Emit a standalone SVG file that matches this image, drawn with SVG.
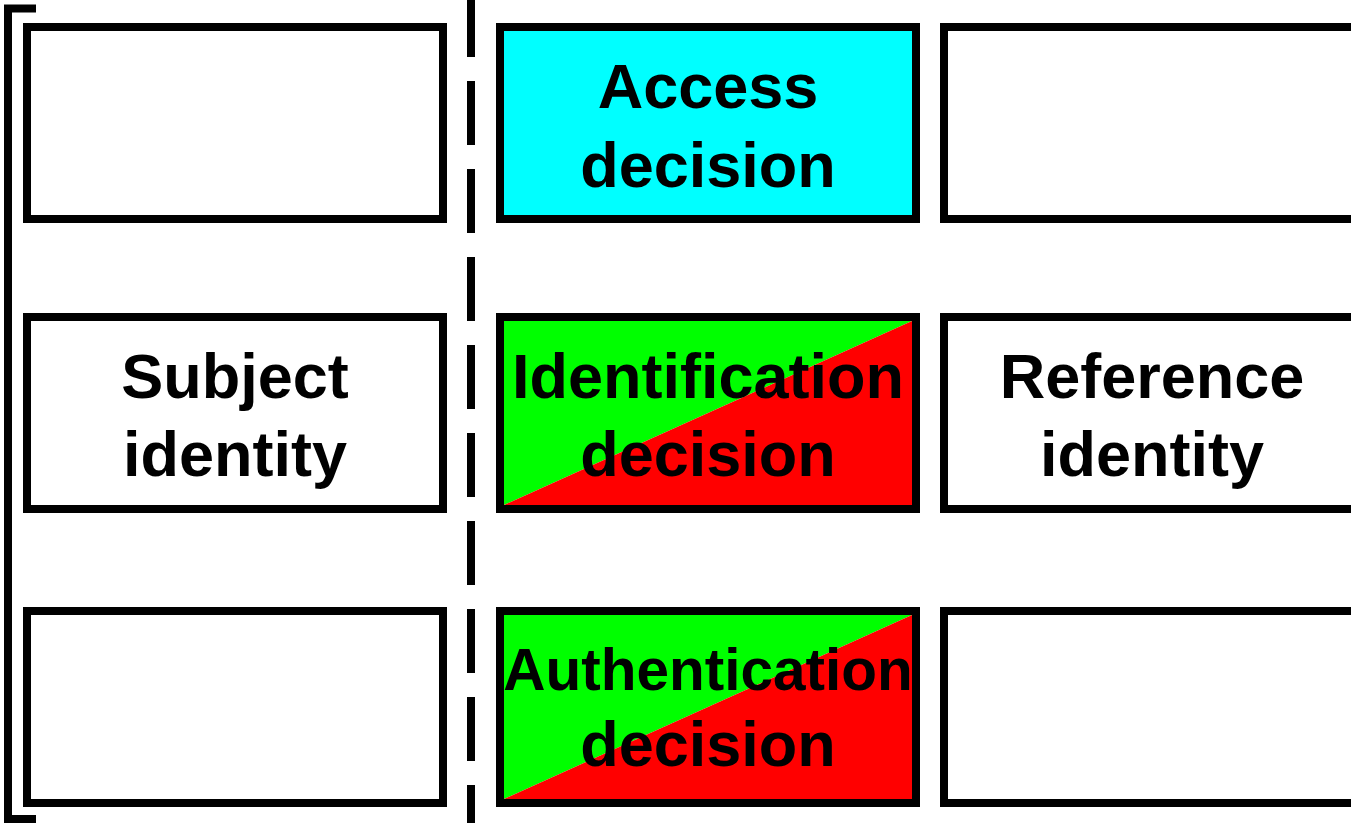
<svg xmlns="http://www.w3.org/2000/svg" width="1351" height="823" viewBox="0 0 1351 823">
<style>
.box{fill:#ffffff;stroke:#000;stroke-width:8}
.frame{fill:none;stroke:#000;stroke-width:8}
.lbl{font-family:"Liberation Sans",Arial,sans-serif;font-weight:bold;font-size:63px;fill:#000;text-anchor:middle}
.g{fill:#00ff00}
.r{fill:#ff0000}
</style>
<rect width="1351" height="823" fill="#ffffff"/>
<g id="connectors">
<path d="M36,8.5 H8 V819 H36" fill="none" stroke="#000" stroke-width="8"/>
<line x1="471" y1="0" x2="471" y2="823" stroke="#000" stroke-width="8" stroke-dasharray="64 24" stroke-dashoffset="7"/>
</g>
<g id="subject-top"><rect class="box" x="27" y="27" width="416" height="192"/></g>
<g id="access-decision">
<rect class="box" x="500" y="27" width="416" height="192" style="fill:#00ffff"/>
<text class="lbl" x="708" y="108">Access</text>
<text class="lbl" x="708" y="186.5">decision</text>
</g>
<g id="reference-top"><rect class="box" x="944" y="27" width="416" height="192"/></g>
<g id="subject-identity">
<rect class="box" x="27" y="317" width="416" height="192"/>
<text class="lbl" x="235" y="397.5">Subject</text>
<text class="lbl" x="235" y="475.5">identity</text>
</g>
<g id="identification-decision">
<polygon class="g" points="504,321 912,321 504,505"/>
<polygon class="r" points="912,321 912,505 504,505"/>
<rect class="frame" x="500" y="317" width="416" height="192"/>
<text class="lbl" x="708" y="398">Identification</text>
<text class="lbl" x="708" y="476">decision</text>
</g>
<g id="reference-identity">
<rect class="box" x="944" y="317" width="416" height="192"/>
<text class="lbl" x="1152" y="397.5">Reference</text>
<text class="lbl" x="1152" y="475.5">identity</text>
</g>
<g id="subject-bottom"><rect class="box" x="27" y="611" width="416" height="192"/></g>
<g id="authentication-decision">
<polygon class="g" points="504,615 912,615 504,799"/>
<polygon class="r" points="912,615 912,799 504,799"/>
<rect class="frame" x="500" y="611" width="416" height="192"/>
<text class="lbl" x="708" y="690" style="font-size:58.5px">Authentication</text>
<text class="lbl" x="708" y="766">decision</text>
</g>
<g id="reference-bottom"><rect class="box" x="944" y="611" width="416" height="192"/></g>
</svg>
